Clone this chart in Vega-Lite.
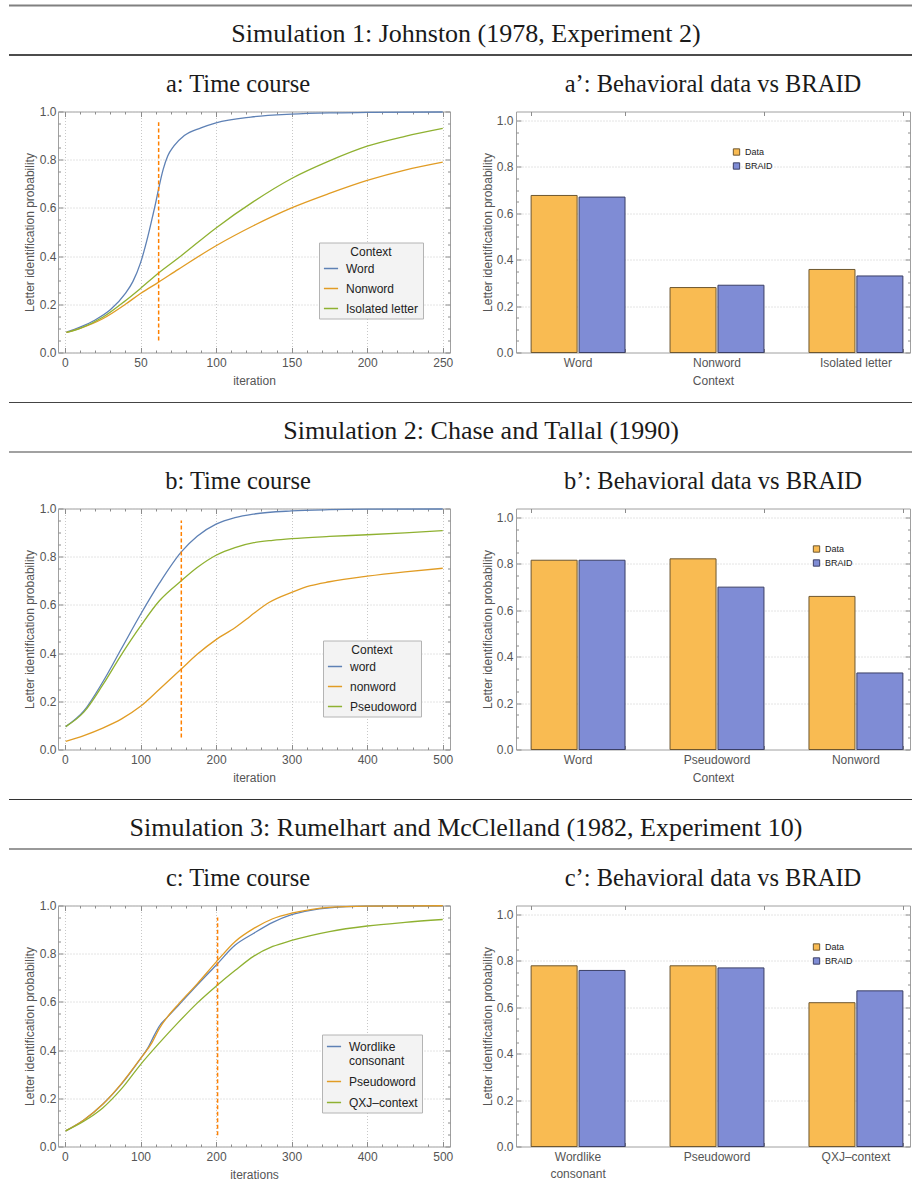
{
  "$schema": "https://vega.github.io/schema/vega-lite/v6.json",
  "padding": {"left": 8, "top": 4.5, "right": 0, "bottom": 0},
  "background": "white",
  "resolve": {"scale": {"color": "independent", "fill": "independent", "stroke": "independent"}, "legend": {"color": "independent", "fill": "independent", "stroke": "independent"}},
  "datasets": {
    "lineA": [
      {"Context": "Word", "iteration": 1, "p": 0.085}, {"Context": "Word", "iteration": 10, "p": 0.105}, {"Context": "Word", "iteration": 20, "p": 0.135}, {"Context": "Word", "iteration": 30, "p": 0.177}, {"Context": "Word", "iteration": 40, "p": 0.245}, {"Context": "Word", "iteration": 45, "p": 0.295}, {"Context": "Word", "iteration": 50, "p": 0.372}, {"Context": "Word", "iteration": 55, "p": 0.485}, {"Context": "Word", "iteration": 58, "p": 0.565}, {"Context": "Word", "iteration": 60, "p": 0.62}, {"Context": "Word", "iteration": 62, "p": 0.68}, {"Context": "Word", "iteration": 65, "p": 0.76}, {"Context": "Word", "iteration": 68, "p": 0.815}, {"Context": "Word", "iteration": 72, "p": 0.856}, {"Context": "Word", "iteration": 79, "p": 0.9}, {"Context": "Word", "iteration": 90, "p": 0.932}, {"Context": "Word", "iteration": 100, "p": 0.953}, {"Context": "Word", "iteration": 123, "p": 0.977}, {"Context": "Word", "iteration": 150, "p": 0.989}, {"Context": "Word", "iteration": 175, "p": 0.994}, {"Context": "Word", "iteration": 200, "p": 0.996}, {"Context": "Word", "iteration": 250, "p": 0.998},
      {"Context": "Nonword", "iteration": 1, "p": 0.083}, {"Context": "Nonword", "iteration": 10, "p": 0.1}, {"Context": "Nonword", "iteration": 25, "p": 0.14}, {"Context": "Nonword", "iteration": 40, "p": 0.2}, {"Context": "Nonword", "iteration": 50, "p": 0.245}, {"Context": "Nonword", "iteration": 62, "p": 0.292}, {"Context": "Nonword", "iteration": 75, "p": 0.345}, {"Context": "Nonword", "iteration": 100, "p": 0.443}, {"Context": "Nonword", "iteration": 125, "p": 0.527}, {"Context": "Nonword", "iteration": 150, "p": 0.6}, {"Context": "Nonword", "iteration": 175, "p": 0.66}, {"Context": "Nonword", "iteration": 200, "p": 0.714}, {"Context": "Nonword", "iteration": 225, "p": 0.757}, {"Context": "Nonword", "iteration": 250, "p": 0.79},
      {"Context": "Isolated letter", "iteration": 1, "p": 0.083}, {"Context": "Isolated letter", "iteration": 10, "p": 0.1}, {"Context": "Isolated letter", "iteration": 25, "p": 0.146}, {"Context": "Isolated letter", "iteration": 40, "p": 0.215}, {"Context": "Isolated letter", "iteration": 50, "p": 0.266}, {"Context": "Isolated letter", "iteration": 62, "p": 0.33}, {"Context": "Isolated letter", "iteration": 75, "p": 0.392}, {"Context": "Isolated letter", "iteration": 100, "p": 0.517}, {"Context": "Isolated letter", "iteration": 125, "p": 0.627}, {"Context": "Isolated letter", "iteration": 150, "p": 0.722}, {"Context": "Isolated letter", "iteration": 175, "p": 0.795}, {"Context": "Isolated letter", "iteration": 200, "p": 0.856}, {"Context": "Isolated letter", "iteration": 225, "p": 0.897}, {"Context": "Isolated letter", "iteration": 250, "p": 0.93}
    ],
    "lineB": [
      {"Context": "word", "iteration": 1, "p": 0.095}, {"Context": "word", "iteration": 25, "p": 0.16}, {"Context": "word", "iteration": 50, "p": 0.28}, {"Context": "word", "iteration": 75, "p": 0.42}, {"Context": "word", "iteration": 100, "p": 0.56}, {"Context": "word", "iteration": 125, "p": 0.69}, {"Context": "word", "iteration": 154, "p": 0.82}, {"Context": "word", "iteration": 175, "p": 0.885}, {"Context": "word", "iteration": 200, "p": 0.935}, {"Context": "word", "iteration": 225, "p": 0.962}, {"Context": "word", "iteration": 250, "p": 0.977}, {"Context": "word", "iteration": 300, "p": 0.99}, {"Context": "word", "iteration": 350, "p": 0.995}, {"Context": "word", "iteration": 400, "p": 0.997}, {"Context": "word", "iteration": 500, "p": 0.998},
      {"Context": "nonword", "iteration": 1, "p": 0.034}, {"Context": "nonword", "iteration": 25, "p": 0.058}, {"Context": "nonword", "iteration": 50, "p": 0.089}, {"Context": "nonword", "iteration": 75, "p": 0.127}, {"Context": "nonword", "iteration": 100, "p": 0.179}, {"Context": "nonword", "iteration": 125, "p": 0.25}, {"Context": "nonword", "iteration": 154, "p": 0.334}, {"Context": "nonword", "iteration": 175, "p": 0.395}, {"Context": "nonword", "iteration": 200, "p": 0.456}, {"Context": "nonword", "iteration": 225, "p": 0.505}, {"Context": "nonword", "iteration": 240, "p": 0.54}, {"Context": "nonword", "iteration": 250, "p": 0.565}, {"Context": "nonword", "iteration": 270, "p": 0.61}, {"Context": "nonword", "iteration": 300, "p": 0.652}, {"Context": "nonword", "iteration": 325, "p": 0.68}, {"Context": "nonword", "iteration": 350, "p": 0.696}, {"Context": "nonword", "iteration": 400, "p": 0.719}, {"Context": "nonword", "iteration": 450, "p": 0.737}, {"Context": "nonword", "iteration": 500, "p": 0.752},
      {"Context": "Pseudoword", "iteration": 1, "p": 0.095}, {"Context": "Pseudoword", "iteration": 25, "p": 0.155}, {"Context": "Pseudoword", "iteration": 50, "p": 0.268}, {"Context": "Pseudoword", "iteration": 75, "p": 0.395}, {"Context": "Pseudoword", "iteration": 100, "p": 0.512}, {"Context": "Pseudoword", "iteration": 125, "p": 0.617}, {"Context": "Pseudoword", "iteration": 154, "p": 0.7}, {"Context": "Pseudoword", "iteration": 175, "p": 0.755}, {"Context": "Pseudoword", "iteration": 200, "p": 0.806}, {"Context": "Pseudoword", "iteration": 225, "p": 0.838}, {"Context": "Pseudoword", "iteration": 250, "p": 0.858}, {"Context": "Pseudoword", "iteration": 275, "p": 0.868}, {"Context": "Pseudoword", "iteration": 300, "p": 0.875}, {"Context": "Pseudoword", "iteration": 350, "p": 0.884}, {"Context": "Pseudoword", "iteration": 400, "p": 0.891}, {"Context": "Pseudoword", "iteration": 450, "p": 0.899}, {"Context": "Pseudoword", "iteration": 500, "p": 0.908}
    ],
    "lineC": [
      {"Context": "Wordlike consonant", "iteration": 1, "p": 0.065}, {"Context": "Wordlike consonant", "iteration": 25, "p": 0.11}, {"Context": "Wordlike consonant", "iteration": 50, "p": 0.175}, {"Context": "Wordlike consonant", "iteration": 75, "p": 0.26}, {"Context": "Wordlike consonant", "iteration": 100, "p": 0.365}, {"Context": "Wordlike consonant", "iteration": 110, "p": 0.41}, {"Context": "Wordlike consonant", "iteration": 118, "p": 0.46}, {"Context": "Wordlike consonant", "iteration": 125, "p": 0.5}, {"Context": "Wordlike consonant", "iteration": 135, "p": 0.535}, {"Context": "Wordlike consonant", "iteration": 150, "p": 0.585}, {"Context": "Wordlike consonant", "iteration": 175, "p": 0.67}, {"Context": "Wordlike consonant", "iteration": 200, "p": 0.752}, {"Context": "Wordlike consonant", "iteration": 225, "p": 0.835}, {"Context": "Wordlike consonant", "iteration": 250, "p": 0.885}, {"Context": "Wordlike consonant", "iteration": 275, "p": 0.93}, {"Context": "Wordlike consonant", "iteration": 300, "p": 0.962}, {"Context": "Wordlike consonant", "iteration": 325, "p": 0.98}, {"Context": "Wordlike consonant", "iteration": 350, "p": 0.99}, {"Context": "Wordlike consonant", "iteration": 400, "p": 0.997}, {"Context": "Wordlike consonant", "iteration": 500, "p": 0.999},
      {"Context": "Pseudoword", "iteration": 1, "p": 0.065}, {"Context": "Pseudoword", "iteration": 25, "p": 0.11}, {"Context": "Pseudoword", "iteration": 50, "p": 0.175}, {"Context": "Pseudoword", "iteration": 75, "p": 0.262}, {"Context": "Pseudoword", "iteration": 100, "p": 0.365}, {"Context": "Pseudoword", "iteration": 115, "p": 0.43}, {"Context": "Pseudoword", "iteration": 125, "p": 0.49}, {"Context": "Pseudoword", "iteration": 135, "p": 0.535}, {"Context": "Pseudoword", "iteration": 150, "p": 0.59}, {"Context": "Pseudoword", "iteration": 175, "p": 0.675}, {"Context": "Pseudoword", "iteration": 200, "p": 0.765}, {"Context": "Pseudoword", "iteration": 225, "p": 0.85}, {"Context": "Pseudoword", "iteration": 250, "p": 0.905}, {"Context": "Pseudoword", "iteration": 275, "p": 0.945}, {"Context": "Pseudoword", "iteration": 300, "p": 0.968}, {"Context": "Pseudoword", "iteration": 325, "p": 0.983}, {"Context": "Pseudoword", "iteration": 350, "p": 0.992}, {"Context": "Pseudoword", "iteration": 400, "p": 0.997}, {"Context": "Pseudoword", "iteration": 500, "p": 0.999},
      {"Context": "QXJ–context", "iteration": 1, "p": 0.065}, {"Context": "QXJ–context", "iteration": 25, "p": 0.105}, {"Context": "QXJ–context", "iteration": 50, "p": 0.16}, {"Context": "QXJ–context", "iteration": 75, "p": 0.24}, {"Context": "QXJ–context", "iteration": 100, "p": 0.34}, {"Context": "QXJ–context", "iteration": 125, "p": 0.43}, {"Context": "QXJ–context", "iteration": 150, "p": 0.515}, {"Context": "QXJ–context", "iteration": 175, "p": 0.595}, {"Context": "QXJ–context", "iteration": 200, "p": 0.665}, {"Context": "QXJ–context", "iteration": 225, "p": 0.73}, {"Context": "QXJ–context", "iteration": 250, "p": 0.79}, {"Context": "QXJ–context", "iteration": 275, "p": 0.83}, {"Context": "QXJ–context", "iteration": 300, "p": 0.855}, {"Context": "QXJ–context", "iteration": 350, "p": 0.892}, {"Context": "QXJ–context", "iteration": 400, "p": 0.915}, {"Context": "QXJ–context", "iteration": 450, "p": 0.93}, {"Context": "QXJ–context", "iteration": 500, "p": 0.942}
    ],
    "markA": [{"iteration": 62, "lo": 0.05, "hi": 0.955}],
    "markB": [{"iteration": 154, "lo": 0.05, "hi": 0.95}],
    "markC": [{"iteration": 202, "lo": 0.047, "hi": 0.95}],
    "barA": [
      {"Context": "Word", "Series": "Data", "p": 0.677}, {"Context": "Word", "Series": "BRAID", "p": 0.67},
      {"Context": "Nonword", "Series": "Data", "p": 0.28}, {"Context": "Nonword", "Series": "BRAID", "p": 0.29},
      {"Context": "Isolated letter", "Series": "Data", "p": 0.358}, {"Context": "Isolated letter", "Series": "BRAID", "p": 0.33}
    ],
    "barB": [
      {"Context": "Word", "Series": "Data", "p": 0.816}, {"Context": "Word", "Series": "BRAID", "p": 0.816},
      {"Context": "Pseudoword", "Series": "Data", "p": 0.822}, {"Context": "Pseudoword", "Series": "BRAID", "p": 0.70},
      {"Context": "Nonword", "Series": "Data", "p": 0.66}, {"Context": "Nonword", "Series": "BRAID", "p": 0.33}
    ],
    "barC": [
      {"Context": "Wordlike consonant", "Series": "Data", "p": 0.779}, {"Context": "Wordlike consonant", "Series": "BRAID", "p": 0.759},
      {"Context": "Pseudoword", "Series": "Data", "p": 0.779}, {"Context": "Pseudoword", "Series": "BRAID", "p": 0.77},
      {"Context": "QXJ–context", "Series": "Data", "p": 0.62}, {"Context": "QXJ–context", "Series": "BRAID", "p": 0.671}
    ]
  },
  "vconcat": [
    {
      "spacing": 14,
      "resolve": {"scale": {"color": "independent", "fill": "independent", "stroke": "independent"}, "legend": {"color": "independent", "fill": "independent", "stroke": "independent"}},
      "vconcat": [
        {
          "width": 904, "height": 49.5,
          "view": {"stroke": null},
          "data": {"values": [{"section": "Simulation 1: Johnston (1978, Experiment 2)"}]},
          "layer": [
            {"mark": {"type": "rule", "color": "#808080", "strokeWidth": 2}, "encoding": {"y": {"datum": 1, "type": "quantitative", "scale": {"domain": [0, 1], "nice": false}, "axis": null}}},
            {"mark": {"type": "rule", "color": "#111111", "strokeWidth": 1.3}, "encoding": {"y": {"datum": 0, "type": "quantitative"}}},
            {"mark": {"type": "text", "font": "Liberation Serif", "fontSize": 26, "color": "#1a1a1a", "baseline": "middle", "dx": 5}, "encoding": {"text": {"field": "section"}, "y": {"datum": 0.42, "type": "quantitative"}}}
          ]
        },
        {
          "spacing": 0,
          "resolve": {"scale": {"color": "independent", "fill": "independent", "stroke": "independent"}, "legend": {"color": "independent", "fill": "independent", "stroke": "independent"}},
          "hconcat": [
            {"width": 13, "height": 10, "view": {"stroke": null}, "data": {"values": [{}]}, "mark": {"type": "point", "opacity": 0}},
            {
              "spacing": 26,
              "resolve": {"scale": {"color": "independent", "fill": "independent", "stroke": "independent"}, "legend": {"color": "independent", "fill": "independent", "stroke": "independent"}},
              "hconcat": [
                {
                  "width": 392, "height": 241,
                  "title": {"text": "a: Time course", "offset": 8, "frame": "bounds"},
                  "layer": [
                    {
                      "data": {"name": "lineA"},
                      "mark": {"type": "line", "strokeWidth": 1.3, "interpolate": "monotone"},
                      "encoding": {
                        "x": {"field": "iteration", "type": "quantitative", "scale": {"domain": [-4.6, 254.8], "nice": false, "zero": false},
                          "axis": {"orient": "bottom", "values": [0, 50, 100, 150, 200, 250], "format": "d", "ticks": false, "grid": true, "title": "iteration", "labelPadding": 5, "titlePadding": 7}},
                        "y": {"field": "p", "type": "quantitative", "scale": {"domain": [0, 1], "nice": false, "zero": false},
                          "axis": {"orient": "left", "values": [0, 0.2, 0.4, 0.6, 0.8, 1], "format": ".1f", "ticks": false, "grid": true, "title": "Letter identification probability", "labelPadding": 2, "titlePadding": 3}},
                        "color": {"field": "Context", "type": "nominal", "sort": ["Word", "Nonword", "Isolated letter"], "scale": {"domain": ["Word", "Nonword", "Isolated letter"], "range": ["#5E81B5", "#E19C24", "#8FB131"]},
                          "legend": {"orient": "none", "legendX": 261, "legendY": 131, "title": "Context", "titleAnchor": "middle", "fillColor": "#f3f3f3", "strokeColor": "#b4b4b4", "padding": 4, "symbolType": "stroke", "symbolSize": 200, "symbolStrokeWidth": 1.5, "labelFontSize": 12, "titleFontSize": 12, "labelColor": "#222222", "titleColor": "#222222", "titleFontWeight": "normal", "rowPadding": 6, "labelOffset": 7, "titlePadding": 2}}
                      }
                    },
                    {
                      "data": {"name": "markA"},
                      "mark": {"type": "rule", "color": "#FF8000", "strokeWidth": 1.5, "strokeDash": [4, 2.5]},
                      "encoding": {
                        "x": {"field": "iteration", "type": "quantitative", "axis": {"orient": "top", "values": [0,10,20,30,40,50,60,70,80,90,100,110,120,130,140,150,160,170,180,190,200,210,220,230,240,250], "labels": false, "tickSize": {"condition": {"test": "datum.value % 50 === 0", "value": -5}, "value": -2.5}, "grid": false, "title": null}},
                        "y": {"field": "lo", "type": "quantitative", "axis": {"orient": "right", "values": [0,0.05,0.1,0.15,0.2,0.25,0.3,0.35,0.4,0.45,0.5,0.55,0.6,0.65,0.7,0.75,0.8,0.85,0.9,0.95,1], "labels": false, "tickSize": {"condition": {"test": "abs(datum.value*5 - round(datum.value*5)) < 0.001", "value": -5}, "value": -2.5}, "grid": false, "title": null}},
                        "y2": {"field": "hi"}
                      }
                    },
                    {
                      "data": {"name": "markA"},
                      "mark": {"type": "rule", "opacity": 0},
                      "encoding": {
                        "x": {"field": "iteration", "type": "quantitative", "axis": {"orient": "bottom", "values": [0,10,20,30,40,50,60,70,80,90,100,110,120,130,140,150,160,170,180,190,200,210,220,230,240,250], "labels": false, "tickSize": {"condition": {"test": "datum.value % 50 === 0", "value": -5}, "value": -2.5}, "grid": false, "title": null}},
                        "y": {"field": "lo", "type": "quantitative", "axis": {"orient": "left", "values": [0,0.05,0.1,0.15,0.2,0.25,0.3,0.35,0.4,0.45,0.5,0.55,0.6,0.65,0.7,0.75,0.8,0.85,0.9,0.95,1], "labels": false, "tickSize": {"condition": {"test": "abs(datum.value*5 - round(datum.value*5)) < 0.001", "value": -5}, "value": -2.5}, "grid": false, "title": null}},
                        "y2": {"field": "hi"}
                      }
                    }
                  ],
                  "resolve": {"axis": {"x": "independent", "y": "independent"}}
                },
                {
                  "width": 394, "height": 241,
                  "title": {"text": "a’: Behavioral data vs BRAID", "offset": 14},
                  "data": {"name": "barA"},
                  "layer": [
                    {
                      "mark": {"type": "bar", "strokeWidth": 1},
                      "encoding": {
                        "x": {"field": "Context", "type": "nominal", "sort": ["Word", "Nonword", "Isolated letter"], "scale": {"paddingInner": 0.324, "paddingOuter": 0.08, "align": 0.68},
                          "axis": {"orient": "bottom", "title": "Context", "labelAngle": 0, "ticks": false, "grid": false, "labelPadding": 5, "titlePadding": 7}},
                        "xOffset": {"field": "Series", "type": "nominal", "sort": ["Data", "BRAID"], "scale": {"paddingInner": 0.04}},
                        "y": {"field": "p", "type": "quantitative", "scale": {"domain": [0, 1.039], "nice": false},
                          "axis": {"orient": "left", "values": [0, 0.2, 0.4, 0.6, 0.8, 1], "format": ".1f", "ticks": false, "grid": true, "gridOpacity": {"condition": {"test": "datum.value > 0", "value": 1}, "value": 0}, "title": "Letter identification probability", "labelPadding": 3, "titlePadding": 2}},
                        "fill": {"field": "Series", "type": "nominal", "scale": {"domain": ["Data", "BRAID"], "range": ["#F9BB52", "#7F8CD5"]},
                          "legend": {"orient": "none", "legendX": 216, "legendY": 36, "title": null, "symbolType": "square", "symbolSize": 40, "symbolStrokeWidth": 1, "labelFontSize": 9, "labelColor": "#222222", "rowPadding": 3, "labelOffset": 4}},
                        "stroke": {"field": "Series", "type": "nominal", "scale": {"domain": ["Data", "BRAID"], "range": ["#6E5730", "#3B3F66"]},
                          "legend": {"orient": "none", "legendX": 216, "legendY": 36, "title": null, "symbolType": "square", "symbolSize": 40, "symbolStrokeWidth": 1, "labelFontSize": 9, "labelColor": "#222222", "rowPadding": 3, "labelOffset": 4}}
                      }
                    },
                    {
                      "mark": {"type": "bar", "opacity": 0},
                      "encoding": {
                        "x": {"field": "Context", "type": "nominal", "sort": ["Word", "Nonword", "Isolated letter"], "axis": {"orient": "top", "labels": false, "title": null, "tickBand": "extent", "tickSize": -4, "grid": false}},
                        "xOffset": {"field": "Series", "type": "nominal", "sort": ["Data", "BRAID"]},
                        "y": {"field": "p", "type": "quantitative", "axis": {"orient": "right", "values": [0,0.05,0.1,0.15,0.2,0.25,0.3,0.35,0.4,0.45,0.5,0.55,0.6,0.65,0.7,0.75,0.8,0.85,0.9,0.95,1], "labels": false, "title": null, "grid": false, "tickSize": {"condition": {"test": "abs(datum.value*5 - round(datum.value*5)) < 0.001", "value": -5}, "value": -2.5}}}
                      }
                    },
                    {
                      "mark": {"type": "bar", "opacity": 0},
                      "encoding": {
                        "x": {"field": "Context", "type": "nominal", "sort": ["Word", "Nonword", "Isolated letter"], "axis": {"orient": "bottom", "labels": false, "title": null, "tickBand": "extent", "tickSize": -4, "grid": false}},
                        "xOffset": {"field": "Series", "type": "nominal", "sort": ["Data", "BRAID"]},
                        "y": {"field": "p", "type": "quantitative", "axis": {"orient": "left", "values": [0,0.05,0.1,0.15,0.2,0.25,0.3,0.35,0.4,0.45,0.5,0.55,0.6,0.65,0.7,0.75,0.8,0.85,0.9,0.95,1], "labels": false, "title": null, "grid": false, "tickSize": {"condition": {"test": "abs(datum.value*5 - round(datum.value*5)) < 0.001", "value": -5}, "value": -2.5}}}
                      }
                    }
                  ],
                  "resolve": {"axis": {"x": "independent", "y": "independent"}}
                }
              ]
            }
          ]
        }
      ]
    },
    {
      "spacing": 14,
      "resolve": {"scale": {"color": "independent", "fill": "independent", "stroke": "independent"}, "legend": {"color": "independent", "fill": "independent", "stroke": "independent"}},
      "vconcat": [
        {
          "width": 904, "height": 49.5,
          "view": {"stroke": null},
          "data": {"values": [{"section": "Simulation 2: Chase and Tallal (1990)"}]},
          "layer": [
            {"mark": {"type": "rule", "color": "#444444", "strokeWidth": 1.2}, "encoding": {"y": {"datum": 1, "type": "quantitative", "scale": {"domain": [0, 1], "nice": false}, "axis": null}}},
            {"mark": {"type": "rule", "color": "#444444", "strokeWidth": 1.2}, "encoding": {"y": {"datum": 0, "type": "quantitative"}}},
            {"mark": {"type": "text", "font": "Liberation Serif", "fontSize": 26, "color": "#1a1a1a", "baseline": "middle", "dx": 20}, "encoding": {"text": {"field": "section"}, "y": {"datum": 0.42, "type": "quantitative"}}}
          ]
        },
        {
          "spacing": 0,
          "resolve": {"scale": {"color": "independent", "fill": "independent", "stroke": "independent"}, "legend": {"color": "independent", "fill": "independent", "stroke": "independent"}},
          "hconcat": [
            {"width": 13, "height": 10, "view": {"stroke": null}, "data": {"values": [{}]}, "mark": {"type": "point", "opacity": 0}},
            {
              "spacing": 26,
              "resolve": {"scale": {"color": "independent", "fill": "independent", "stroke": "independent"}, "legend": {"color": "independent", "fill": "independent", "stroke": "independent"}},
              "hconcat": [
                {
                  "width": 392, "height": 241,
                  "title": {"text": "b: Time course", "offset": 8, "frame": "bounds"},
                  "layer": [
                    {
                      "data": {"name": "lineB"},
                      "mark": {"type": "line", "strokeWidth": 1.3, "interpolate": "monotone"},
                      "encoding": {
                        "x": {"field": "iteration", "type": "quantitative", "scale": {"domain": [-9.2, 509.6], "nice": false, "zero": false},
                          "axis": {"orient": "bottom", "values": [0, 100, 200, 300, 400, 500], "format": "d", "ticks": false, "grid": true, "title": "iteration", "labelPadding": 5, "titlePadding": 7}},
                        "y": {"field": "p", "type": "quantitative", "scale": {"domain": [0, 1], "nice": false, "zero": false},
                          "axis": {"orient": "left", "values": [0, 0.2, 0.4, 0.6, 0.8, 1], "format": ".1f", "ticks": false, "grid": true, "title": "Letter identification probability", "labelPadding": 2, "titlePadding": 3}},
                        "color": {"field": "Context", "type": "nominal", "sort": ["word", "nonword", "Pseudoword"], "scale": {"domain": ["word", "nonword", "Pseudoword"], "range": ["#5E81B5", "#E19C24", "#8FB131"]},
                          "legend": {"orient": "none", "legendX": 265, "legendY": 132, "title": "Context", "titleAnchor": "middle", "fillColor": "#f3f3f3", "strokeColor": "#b4b4b4", "padding": 4, "symbolType": "stroke", "symbolSize": 200, "symbolStrokeWidth": 1.5, "labelFontSize": 12, "titleFontSize": 12, "labelColor": "#222222", "titleColor": "#222222", "titleFontWeight": "normal", "rowPadding": 6, "labelOffset": 7, "titlePadding": 2}}
                      }
                    },
                    {
                      "data": {"name": "markB"},
                      "mark": {"type": "rule", "color": "#FF8000", "strokeWidth": 1.5, "strokeDash": [4, 2.5]},
                      "encoding": {
                        "x": {"field": "iteration", "type": "quantitative", "axis": {"orient": "top", "values": [0,20,40,60,80,100,120,140,160,180,200,220,240,260,280,300,320,340,360,380,400,420,440,460,480,500], "labels": false, "tickSize": {"condition": {"test": "datum.value % 100 === 0", "value": -5}, "value": -2.5}, "grid": false, "title": null}},
                        "y": {"field": "lo", "type": "quantitative", "axis": {"orient": "right", "values": [0,0.05,0.1,0.15,0.2,0.25,0.3,0.35,0.4,0.45,0.5,0.55,0.6,0.65,0.7,0.75,0.8,0.85,0.9,0.95,1], "labels": false, "tickSize": {"condition": {"test": "abs(datum.value*5 - round(datum.value*5)) < 0.001", "value": -5}, "value": -2.5}, "grid": false, "title": null}},
                        "y2": {"field": "hi"}
                      }
                    },
                    {
                      "data": {"name": "markB"},
                      "mark": {"type": "rule", "opacity": 0},
                      "encoding": {
                        "x": {"field": "iteration", "type": "quantitative", "axis": {"orient": "bottom", "values": [0,20,40,60,80,100,120,140,160,180,200,220,240,260,280,300,320,340,360,380,400,420,440,460,480,500], "labels": false, "tickSize": {"condition": {"test": "datum.value % 100 === 0", "value": -5}, "value": -2.5}, "grid": false, "title": null}},
                        "y": {"field": "lo", "type": "quantitative", "axis": {"orient": "left", "values": [0,0.05,0.1,0.15,0.2,0.25,0.3,0.35,0.4,0.45,0.5,0.55,0.6,0.65,0.7,0.75,0.8,0.85,0.9,0.95,1], "labels": false, "tickSize": {"condition": {"test": "abs(datum.value*5 - round(datum.value*5)) < 0.001", "value": -5}, "value": -2.5}, "grid": false, "title": null}},
                        "y2": {"field": "hi"}
                      }
                    }
                  ],
                  "resolve": {"axis": {"x": "independent", "y": "independent"}}
                },
                {
                  "width": 394, "height": 241,
                  "title": {"text": "b’: Behavioral data vs BRAID", "offset": 14},
                  "data": {"name": "barB"},
                  "layer": [
                    {
                      "mark": {"type": "bar", "strokeWidth": 1},
                      "encoding": {
                        "x": {"field": "Context", "type": "nominal", "sort": ["Word", "Pseudoword", "Nonword"], "scale": {"paddingInner": 0.324, "paddingOuter": 0.08, "align": 0.68},
                          "axis": {"orient": "bottom", "title": "Context", "labelAngle": 0, "ticks": false, "grid": false, "labelPadding": 5, "titlePadding": 7}},
                        "xOffset": {"field": "Series", "type": "nominal", "sort": ["Data", "BRAID"], "scale": {"paddingInner": 0.04}},
                        "y": {"field": "p", "type": "quantitative", "scale": {"domain": [0, 1.039], "nice": false},
                          "axis": {"orient": "left", "values": [0, 0.2, 0.4, 0.6, 0.8, 1], "format": ".1f", "ticks": false, "grid": true, "gridOpacity": {"condition": {"test": "datum.value > 0", "value": 1}, "value": 0}, "title": "Letter identification probability", "labelPadding": 3, "titlePadding": 2}},
                        "fill": {"field": "Series", "type": "nominal", "scale": {"domain": ["Data", "BRAID"], "range": ["#F9BB52", "#7F8CD5"]},
                          "legend": {"orient": "none", "legendX": 296, "legendY": 36, "title": null, "symbolType": "square", "symbolSize": 40, "symbolStrokeWidth": 1, "labelFontSize": 9, "labelColor": "#222222", "rowPadding": 3, "labelOffset": 4}},
                        "stroke": {"field": "Series", "type": "nominal", "scale": {"domain": ["Data", "BRAID"], "range": ["#6E5730", "#3B3F66"]},
                          "legend": {"orient": "none", "legendX": 296, "legendY": 36, "title": null, "symbolType": "square", "symbolSize": 40, "symbolStrokeWidth": 1, "labelFontSize": 9, "labelColor": "#222222", "rowPadding": 3, "labelOffset": 4}}
                      }
                    },
                    {
                      "mark": {"type": "bar", "opacity": 0},
                      "encoding": {
                        "x": {"field": "Context", "type": "nominal", "sort": ["Word", "Pseudoword", "Nonword"], "axis": {"orient": "top", "labels": false, "title": null, "tickBand": "extent", "tickSize": -4, "grid": false}},
                        "xOffset": {"field": "Series", "type": "nominal", "sort": ["Data", "BRAID"]},
                        "y": {"field": "p", "type": "quantitative", "axis": {"orient": "right", "values": [0,0.05,0.1,0.15,0.2,0.25,0.3,0.35,0.4,0.45,0.5,0.55,0.6,0.65,0.7,0.75,0.8,0.85,0.9,0.95,1], "labels": false, "title": null, "grid": false, "tickSize": {"condition": {"test": "abs(datum.value*5 - round(datum.value*5)) < 0.001", "value": -5}, "value": -2.5}}}
                      }
                    },
                    {
                      "mark": {"type": "bar", "opacity": 0},
                      "encoding": {
                        "x": {"field": "Context", "type": "nominal", "sort": ["Word", "Pseudoword", "Nonword"], "axis": {"orient": "bottom", "labels": false, "title": null, "tickBand": "extent", "tickSize": -4, "grid": false}},
                        "xOffset": {"field": "Series", "type": "nominal", "sort": ["Data", "BRAID"]},
                        "y": {"field": "p", "type": "quantitative", "axis": {"orient": "left", "values": [0,0.05,0.1,0.15,0.2,0.25,0.3,0.35,0.4,0.45,0.5,0.55,0.6,0.65,0.7,0.75,0.8,0.85,0.9,0.95,1], "labels": false, "title": null, "grid": false, "tickSize": {"condition": {"test": "abs(datum.value*5 - round(datum.value*5)) < 0.001", "value": -5}, "value": -2.5}}}
                      }
                    }
                  ],
                  "resolve": {"axis": {"x": "independent", "y": "independent"}}
                }
              ]
            }
          ]
        }
      ]
    },
    {
      "spacing": 14,
      "resolve": {"scale": {"color": "independent", "fill": "independent", "stroke": "independent"}, "legend": {"color": "independent", "fill": "independent", "stroke": "independent"}},
      "vconcat": [
        {
          "width": 904, "height": 49.5,
          "view": {"stroke": null},
          "data": {"values": [{"section": "Simulation 3: Rumelhart and McClelland (1982, Experiment 10)"}]},
          "layer": [
            {"mark": {"type": "rule", "color": "#333333", "strokeWidth": 1.2}, "encoding": {"y": {"datum": 1, "type": "quantitative", "scale": {"domain": [0, 1], "nice": false}, "axis": null}}},
            {"mark": {"type": "rule", "color": "#777777", "strokeWidth": 1.5}, "encoding": {"y": {"datum": 0, "type": "quantitative"}}},
            {"mark": {"type": "text", "font": "Liberation Serif", "fontSize": 26, "color": "#1a1a1a", "baseline": "middle", "dx": 5}, "encoding": {"text": {"field": "section"}, "y": {"datum": 0.42, "type": "quantitative"}}}
          ]
        },
        {
          "spacing": 0,
          "resolve": {"scale": {"color": "independent", "fill": "independent", "stroke": "independent"}, "legend": {"color": "independent", "fill": "independent", "stroke": "independent"}},
          "hconcat": [
            {"width": 13, "height": 10, "view": {"stroke": null}, "data": {"values": [{}]}, "mark": {"type": "point", "opacity": 0}},
            {
              "spacing": 26,
              "resolve": {"scale": {"color": "independent", "fill": "independent", "stroke": "independent"}, "legend": {"color": "independent", "fill": "independent", "stroke": "independent"}},
              "hconcat": [
                {
                  "width": 392, "height": 241,
                  "title": {"text": "c: Time course", "offset": 8, "frame": "bounds"},
                  "layer": [
                    {
                      "data": {"name": "lineC"},
                      "mark": {"type": "line", "strokeWidth": 1.3, "interpolate": "monotone"},
                      "encoding": {
                        "x": {"field": "iteration", "type": "quantitative", "scale": {"domain": [-9.2, 509.6], "nice": false, "zero": false},
                          "axis": {"orient": "bottom", "values": [0, 100, 200, 300, 400, 500], "format": "d", "ticks": false, "grid": true, "title": "iterations", "labelPadding": 5, "titlePadding": 7}},
                        "y": {"field": "p", "type": "quantitative", "scale": {"domain": [0, 1], "nice": false, "zero": false},
                          "axis": {"orient": "left", "values": [0, 0.2, 0.4, 0.6, 0.8, 1], "format": ".1f", "ticks": false, "grid": true, "title": "Letter identification probability", "labelPadding": 2, "titlePadding": 3}},
                        "color": {"field": "Context", "type": "nominal", "sort": ["Wordlike consonant", "Pseudoword", "QXJ–context"], "scale": {"domain": ["Wordlike consonant", "Pseudoword", "QXJ–context"], "range": ["#5E81B5", "#E19C24", "#8FB131"]},
                          "legend": {"orient": "none", "legendX": 264, "legendY": 129, "title": null, "labelExpr": "datum.label == 'Wordlike consonant' ? [' Wordlike', 'consonant'] : datum.label", "fillColor": "#f3f3f3", "strokeColor": "#b4b4b4", "padding": 4, "symbolType": "stroke", "symbolSize": 200, "symbolStrokeWidth": 1.5, "labelFontSize": 12, "labelColor": "#222222", "rowPadding": 7, "labelOffset": 7}}
                      }
                    },
                    {
                      "data": {"name": "markC"},
                      "mark": {"type": "rule", "color": "#FF8000", "strokeWidth": 1.5, "strokeDash": [4, 2.5]},
                      "encoding": {
                        "x": {"field": "iteration", "type": "quantitative", "axis": {"orient": "top", "values": [0,20,40,60,80,100,120,140,160,180,200,220,240,260,280,300,320,340,360,380,400,420,440,460,480,500], "labels": false, "tickSize": {"condition": {"test": "datum.value % 100 === 0", "value": -5}, "value": -2.5}, "grid": false, "title": null}},
                        "y": {"field": "lo", "type": "quantitative", "axis": {"orient": "right", "values": [0,0.05,0.1,0.15,0.2,0.25,0.3,0.35,0.4,0.45,0.5,0.55,0.6,0.65,0.7,0.75,0.8,0.85,0.9,0.95,1], "labels": false, "tickSize": {"condition": {"test": "abs(datum.value*5 - round(datum.value*5)) < 0.001", "value": -5}, "value": -2.5}, "grid": false, "title": null}},
                        "y2": {"field": "hi"}
                      }
                    },
                    {
                      "data": {"name": "markC"},
                      "mark": {"type": "rule", "opacity": 0},
                      "encoding": {
                        "x": {"field": "iteration", "type": "quantitative", "axis": {"orient": "bottom", "values": [0,20,40,60,80,100,120,140,160,180,200,220,240,260,280,300,320,340,360,380,400,420,440,460,480,500], "labels": false, "tickSize": {"condition": {"test": "datum.value % 100 === 0", "value": -5}, "value": -2.5}, "grid": false, "title": null}},
                        "y": {"field": "lo", "type": "quantitative", "axis": {"orient": "left", "values": [0,0.05,0.1,0.15,0.2,0.25,0.3,0.35,0.4,0.45,0.5,0.55,0.6,0.65,0.7,0.75,0.8,0.85,0.9,0.95,1], "labels": false, "tickSize": {"condition": {"test": "abs(datum.value*5 - round(datum.value*5)) < 0.001", "value": -5}, "value": -2.5}, "grid": false, "title": null}},
                        "y2": {"field": "hi"}
                      }
                    }
                  ],
                  "resolve": {"axis": {"x": "independent", "y": "independent"}}
                },
                {
                  "width": 394, "height": 241,
                  "title": {"text": "c’: Behavioral data vs BRAID", "offset": 14},
                  "data": {"name": "barC"},
                  "layer": [
                    {
                      "mark": {"type": "bar", "strokeWidth": 1},
                      "encoding": {
                        "x": {"field": "Context", "type": "nominal", "sort": ["Wordlike consonant", "Pseudoword", "QXJ–context"], "scale": {"paddingInner": 0.324, "paddingOuter": 0.08, "align": 0.68},
                          "axis": {"orient": "bottom", "title": null, "labelAngle": 0, "labelExpr": "datum.label == 'Wordlike consonant' ? ['Wordlike', 'consonant'] : datum.label", "labelLineHeight": 17, "ticks": false, "grid": false, "labelPadding": 5}},
                        "xOffset": {"field": "Series", "type": "nominal", "sort": ["Data", "BRAID"], "scale": {"paddingInner": 0.04}},
                        "y": {"field": "p", "type": "quantitative", "scale": {"domain": [0, 1.039], "nice": false},
                          "axis": {"orient": "left", "values": [0, 0.2, 0.4, 0.6, 0.8, 1], "format": ".1f", "ticks": false, "grid": true, "gridOpacity": {"condition": {"test": "datum.value > 0", "value": 1}, "value": 0}, "title": "Letter identification probability", "labelPadding": 3, "titlePadding": 2}},
                        "fill": {"field": "Series", "type": "nominal", "scale": {"domain": ["Data", "BRAID"], "range": ["#F9BB52", "#7F8CD5"]},
                          "legend": {"orient": "none", "legendX": 296, "legendY": 37, "title": null, "symbolType": "square", "symbolSize": 40, "symbolStrokeWidth": 1, "labelFontSize": 9, "labelColor": "#222222", "rowPadding": 3, "labelOffset": 4}},
                        "stroke": {"field": "Series", "type": "nominal", "scale": {"domain": ["Data", "BRAID"], "range": ["#6E5730", "#3B3F66"]},
                          "legend": {"orient": "none", "legendX": 296, "legendY": 37, "title": null, "symbolType": "square", "symbolSize": 40, "symbolStrokeWidth": 1, "labelFontSize": 9, "labelColor": "#222222", "rowPadding": 3, "labelOffset": 4}}
                      }
                    },
                    {
                      "mark": {"type": "bar", "opacity": 0},
                      "encoding": {
                        "x": {"field": "Context", "type": "nominal", "sort": ["Wordlike consonant", "Pseudoword", "QXJ–context"], "axis": {"orient": "top", "labels": false, "title": null, "tickBand": "extent", "tickSize": -4, "grid": false}},
                        "xOffset": {"field": "Series", "type": "nominal", "sort": ["Data", "BRAID"]},
                        "y": {"field": "p", "type": "quantitative", "axis": {"orient": "right", "values": [0,0.05,0.1,0.15,0.2,0.25,0.3,0.35,0.4,0.45,0.5,0.55,0.6,0.65,0.7,0.75,0.8,0.85,0.9,0.95,1], "labels": false, "title": null, "grid": false, "tickSize": {"condition": {"test": "abs(datum.value*5 - round(datum.value*5)) < 0.001", "value": -5}, "value": -2.5}}}
                      }
                    },
                    {
                      "mark": {"type": "bar", "opacity": 0},
                      "encoding": {
                        "x": {"field": "Context", "type": "nominal", "sort": ["Wordlike consonant", "Pseudoword", "QXJ–context"], "axis": {"orient": "bottom", "labels": false, "title": null, "tickBand": "extent", "tickSize": -4, "grid": false}},
                        "xOffset": {"field": "Series", "type": "nominal", "sort": ["Data", "BRAID"]},
                        "y": {"field": "p", "type": "quantitative", "axis": {"orient": "left", "values": [0,0.05,0.1,0.15,0.2,0.25,0.3,0.35,0.4,0.45,0.5,0.55,0.6,0.65,0.7,0.75,0.8,0.85,0.9,0.95,1], "labels": false, "title": null, "grid": false, "tickSize": {"condition": {"test": "abs(datum.value*5 - round(datum.value*5)) < 0.001", "value": -5}, "value": -2.5}}}
                      }
                    }
                  ],
                  "resolve": {"axis": {"x": "independent", "y": "independent"}}
                }
              ]
            }
          ]
        }
      ]
    }
  ],
  "spacing": 14,
  "config": {
    "font": "Liberation Sans",
    "view": {"stroke": "#a0a0a0", "strokeWidth": 1},
    "axis": {"labelFont": "Liberation Sans", "labelFontSize": 12, "labelColor": "#555555", "titleFont": "Liberation Sans", "titleFontSize": 12, "titleColor": "#555555", "titleFontWeight": "normal", "domain": false, "tickColor": "#8c8c8c", "gridColor": "#c8c8c8", "gridDash": [1, 2], "labelOverlap": false, "labelFlush": false, "labelBound": false},
    "legend": {"labelFont": "Liberation Sans", "titleFont": "Liberation Sans"},
    "title": {"font": "Liberation Serif", "fontSize": 24.5, "fontWeight": "normal", "color": "#1a1a1a", "anchor": "middle", "frame": "group"}
  }
}
